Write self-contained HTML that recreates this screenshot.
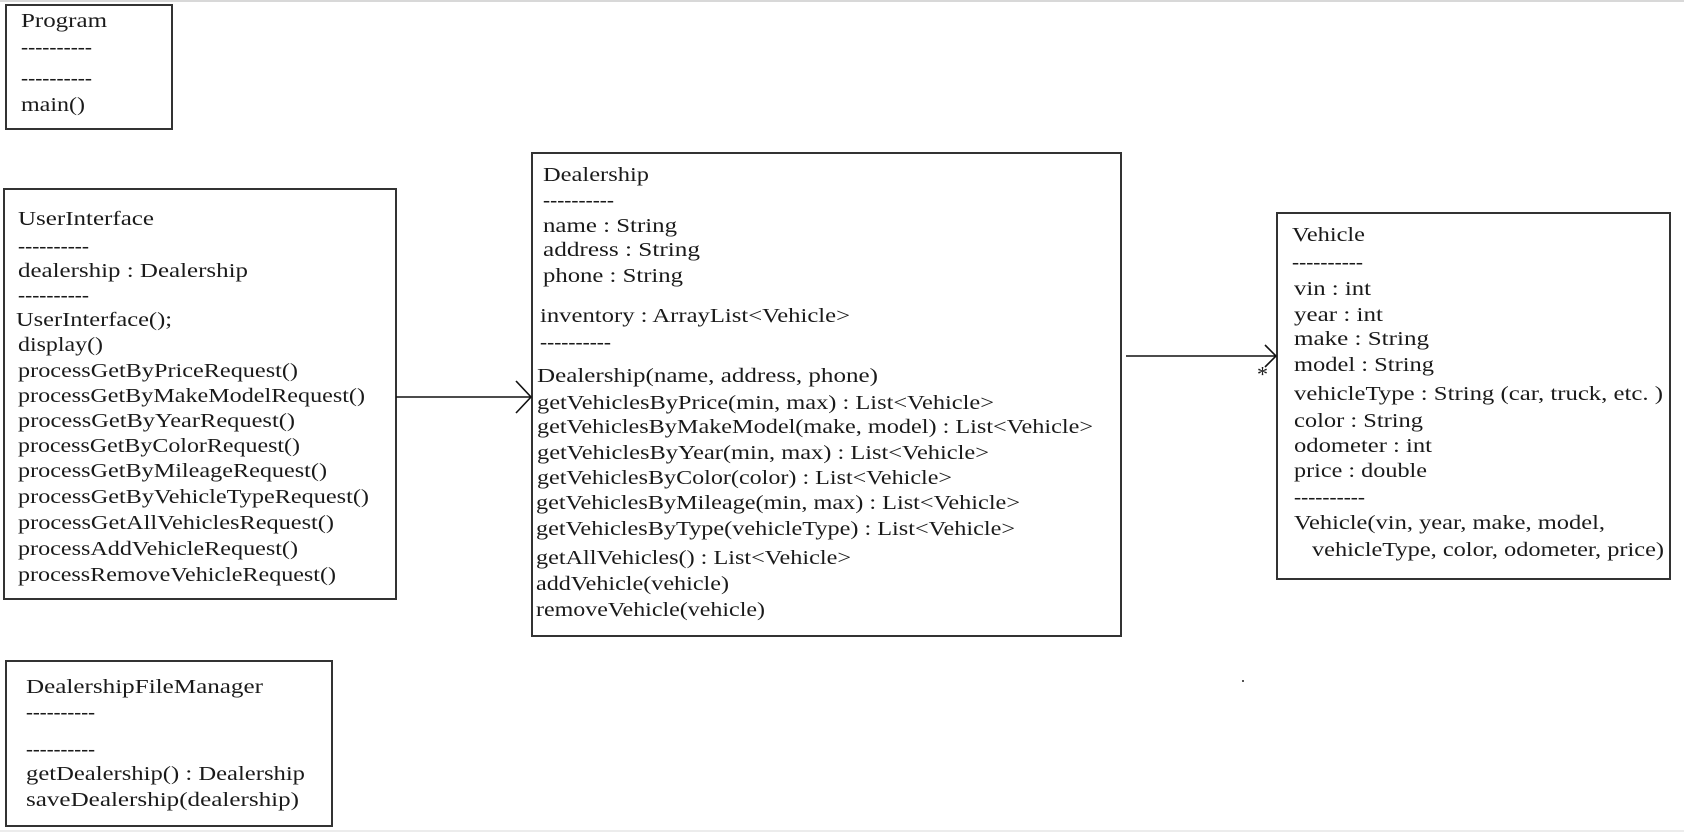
<!DOCTYPE html>
<html><head><meta charset="utf-8"><style>
html,body{margin:0;padding:0;background:#fff;}
svg{display:block;}
text{font-family:"Liberation Serif",serif;font-size:20px;fill:#1a1a1a;dominant-baseline:central;}
text.d{font-weight:bold;font-size:18px;}
</style></head><body>
<svg width="1684" height="832" viewBox="0 0 1684 832" xmlns="http://www.w3.org/2000/svg">
<rect x="0" y="0" width="1684" height="2" fill="#d8d8d8"/>
<rect x="0" y="830" width="1684" height="2" fill="#ececec"/>
<g fill="none" stroke="#333" stroke-width="2">
<rect x="6" y="5" width="166" height="124"/>
<rect x="4" y="189" width="392" height="410"/>
<rect x="532" y="153" width="589" height="483"/>
<rect x="1277" y="213" width="393" height="366"/>
<rect x="6" y="661" width="326" height="165"/>
</g>
<g stroke="#111" stroke-width="1.6" fill="none">
<line x1="396" y1="397" x2="531" y2="397"/>
<polyline points="516,381 531,397 516,413"/>
<line x1="1126" y1="356" x2="1276" y2="356"/>
<polyline points="1265,345 1276,356 1265,367"/>
</g>
<text x="1257" y="374" style="font-size:22px">*</text>

<text x="21" y="21" textLength="86" lengthAdjust="spacingAndGlyphs">Program</text>
<text class="d" x="21" y="47" textLength="71" lengthAdjust="spacingAndGlyphs">----------</text>
<text class="d" x="21" y="78" textLength="71" lengthAdjust="spacingAndGlyphs">----------</text>
<text x="21" y="105" textLength="64" lengthAdjust="spacingAndGlyphs">main()</text>

<text x="18" y="219" textLength="136" lengthAdjust="spacingAndGlyphs">UserInterface</text>
<text class="d" x="18" y="246" textLength="71" lengthAdjust="spacingAndGlyphs">----------</text>
<text x="18" y="271" textLength="230" lengthAdjust="spacingAndGlyphs">dealership : Dealership</text>
<text class="d" x="18" y="295" textLength="71" lengthAdjust="spacingAndGlyphs">----------</text>
<text x="16" y="320" textLength="156" lengthAdjust="spacingAndGlyphs">UserInterface();</text>
<text x="18" y="345" textLength="85" lengthAdjust="spacingAndGlyphs">display()</text>
<text x="18" y="371" textLength="280" lengthAdjust="spacingAndGlyphs">processGetByPriceRequest()</text>
<text x="18" y="396" textLength="347" lengthAdjust="spacingAndGlyphs">processGetByMakeModelRequest()</text>
<text x="18" y="421" textLength="277" lengthAdjust="spacingAndGlyphs">processGetByYearRequest()</text>
<text x="18" y="446" textLength="282" lengthAdjust="spacingAndGlyphs">processGetByColorRequest()</text>
<text x="18" y="471" textLength="309" lengthAdjust="spacingAndGlyphs">processGetByMileageRequest()</text>
<text x="18" y="497" textLength="351" lengthAdjust="spacingAndGlyphs">processGetByVehicleTypeRequest()</text>
<text x="18" y="523" textLength="316" lengthAdjust="spacingAndGlyphs">processGetAllVehiclesRequest()</text>
<text x="18" y="549" textLength="280" lengthAdjust="spacingAndGlyphs">processAddVehicleRequest()</text>
<text x="18" y="575" textLength="318" lengthAdjust="spacingAndGlyphs">processRemoveVehicleRequest()</text>

<text x="543" y="175" textLength="106" lengthAdjust="spacingAndGlyphs">Dealership</text>
<text class="d" x="543" y="200" textLength="71" lengthAdjust="spacingAndGlyphs">----------</text>
<text x="543" y="226" textLength="134" lengthAdjust="spacingAndGlyphs">name : String</text>
<text x="543" y="250" textLength="157" lengthAdjust="spacingAndGlyphs">address : String</text>
<text x="543" y="276" textLength="140" lengthAdjust="spacingAndGlyphs">phone : String</text>
<text x="540" y="316" textLength="310" lengthAdjust="spacingAndGlyphs">inventory : ArrayList&lt;Vehicle&gt;</text>
<text class="d" x="540" y="342" textLength="71" lengthAdjust="spacingAndGlyphs">----------</text>
<text x="537" y="376" textLength="341" lengthAdjust="spacingAndGlyphs">Dealership(name, address, phone)</text>
<text x="537" y="403" textLength="457" lengthAdjust="spacingAndGlyphs">getVehiclesByPrice(min, max) : List&lt;Vehicle&gt;</text>
<text x="537" y="427" textLength="556" lengthAdjust="spacingAndGlyphs">getVehiclesByMakeModel(make, model) : List&lt;Vehicle&gt;</text>
<text x="537" y="453" textLength="452" lengthAdjust="spacingAndGlyphs">getVehiclesByYear(min, max) : List&lt;Vehicle&gt;</text>
<text x="537" y="478" textLength="415" lengthAdjust="spacingAndGlyphs">getVehiclesByColor(color) : List&lt;Vehicle&gt;</text>
<text x="536" y="503" textLength="484" lengthAdjust="spacingAndGlyphs">getVehiclesByMileage(min, max) : List&lt;Vehicle&gt;</text>
<text x="536" y="529" textLength="479" lengthAdjust="spacingAndGlyphs">getVehiclesByType(vehicleType) : List&lt;Vehicle&gt;</text>
<text x="536" y="558" textLength="315" lengthAdjust="spacingAndGlyphs">getAllVehicles() : List&lt;Vehicle&gt;</text>
<text x="536" y="584" textLength="193" lengthAdjust="spacingAndGlyphs">addVehicle(vehicle)</text>
<text x="536" y="610" textLength="229" lengthAdjust="spacingAndGlyphs">removeVehicle(vehicle)</text>

<text x="1292" y="235" textLength="73" lengthAdjust="spacingAndGlyphs">Vehicle</text>
<text class="d" x="1292" y="262" textLength="71" lengthAdjust="spacingAndGlyphs">----------</text>
<text x="1294" y="289" textLength="77" lengthAdjust="spacingAndGlyphs">vin : int</text>
<text x="1294" y="315" textLength="89" lengthAdjust="spacingAndGlyphs">year : int</text>
<text x="1294" y="339" textLength="135" lengthAdjust="spacingAndGlyphs">make : String</text>
<text x="1294" y="365" textLength="140" lengthAdjust="spacingAndGlyphs">model : String</text>
<text x="1294" y="394" textLength="369" lengthAdjust="spacingAndGlyphs">vehicleType : String (car, truck, etc. )</text>
<text x="1294" y="421" textLength="129" lengthAdjust="spacingAndGlyphs">color : String</text>
<text x="1294" y="446" textLength="138" lengthAdjust="spacingAndGlyphs">odometer : int</text>
<text x="1294" y="471" textLength="133" lengthAdjust="spacingAndGlyphs">price : double</text>
<text class="d" x="1294" y="497" textLength="71" lengthAdjust="spacingAndGlyphs">----------</text>
<text x="1294" y="523" textLength="311" lengthAdjust="spacingAndGlyphs">Vehicle(vin, year, make, model,</text>
<text x="1312" y="550" textLength="352" lengthAdjust="spacingAndGlyphs">vehicleType, color, odometer, price)</text>

<text x="26" y="687" textLength="237" lengthAdjust="spacingAndGlyphs">DealershipFileManager</text>
<text class="d" x="26" y="712" textLength="69" lengthAdjust="spacingAndGlyphs">----------</text>
<text class="d" x="26" y="749" textLength="69" lengthAdjust="spacingAndGlyphs">----------</text>
<text x="26" y="774" textLength="279" lengthAdjust="spacingAndGlyphs">getDealership() : Dealership</text>
<text x="26" y="800" textLength="273" lengthAdjust="spacingAndGlyphs">saveDealership(dealership)</text>
<rect x="1242" y="680" width="2" height="2" fill="#555"/>
</svg>
</body></html>
